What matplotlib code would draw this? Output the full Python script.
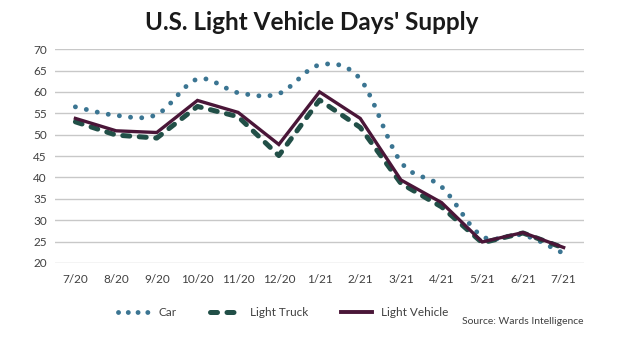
import matplotlib
matplotlib.use("Agg")
import matplotlib.pyplot as plt
from matplotlib.path import Path
from matplotlib.patches import PathPatch
from matplotlib.lines import Line2D

# Månader och värden
months = ["7/20", "8/20", "9/20", "10/20", "11/20", "12/20", "1/21",
          "2/21", "3/21", "4/21", "5/21", "6/21", "7/21"]
car = [56.5, 54.5, 54.7, 63.0, 59.8, 59.6, 66.3, 63.0, 43.6, 37.8, 26.2, 26.5, 22.2]
light_truck = [53.0, 49.9, 49.2, 56.6, 54.2, 45.1, 58.1, 51.7, 38.6, 33.1, 24.7, 27.0, 23.5]
light_vehicle = [53.8, 50.9, 50.5, 58.0, 55.2, 47.7, 60.0, 53.8, 39.4, 34.1, 24.9, 27.1, 23.6]
yticks = [20, 25, 30, 35, 40, 45, 50, 55, 60, 65, 70]

CAR_COL = "#3b7592"
TRUCK_COL = "#214f47"
VEH_COL = "#4a1638"

plt.rcParams["font.family"] = ["Lato", "DejaVu Sans"]

fig = plt.figure(figsize=(6.4, 3.51), dpi=100)
ax = fig.add_axes([0.086, 0.251, 0.8265, 0.609])

x = list(range(len(months)))

# Car: utjämnad kurva (Excel-stil) via Bezier-segment
verts = [(x[0], car[0])]
codes = [Path.MOVETO]
n = len(car)
for i in range(n - 1):
    p0 = (x[max(i - 1, 0)], car[max(i - 1, 0)])
    p1 = (x[i], car[i])
    p2 = (x[i + 1], car[i + 1])
    p3 = (x[min(i + 2, n - 1)], car[min(i + 2, n - 1)])
    c1 = (p1[0] + (p2[0] - p0[0]) / 6, p1[1] + (p2[1] - p0[1]) / 6)
    c2 = (p2[0] - (p3[0] - p1[0]) / 6, p2[1] - (p3[1] - p1[1]) / 6)
    verts += [c1, c2, p2]
    codes += [Path.CURVE4] * 3

CAR_LW = 3.5
dot_style = (0, (0.01, 2.3))
car_patch = PathPatch(Path(verts, codes), fill=False, edgecolor=CAR_COL,
                      linewidth=CAR_LW, linestyle=dot_style, capstyle="round", zorder=3)
ax.add_patch(car_patch)

truck_style = (0, (1.4, 1.9))
ax.plot(x, light_truck, color=TRUCK_COL, linewidth=3.6,
        linestyle=truck_style, dash_capstyle="round", zorder=4)
ax.plot(x, light_vehicle, color=VEH_COL, linewidth=2.4, zorder=5,
        solid_joinstyle="miter")

ax.set_xlim(-0.5, len(months) - 0.5)
ax.set_ylim(20, 70)
ax.set_yticks(yticks)
ax.set_xticks(x)
ax.set_xticklabels(months)
ax.grid(True, axis="y", color="#c8c8c8", linewidth=1.0)
ax.set_axisbelow(True)
for s in ax.spines.values():
    s.set_visible(False)
ax.tick_params(length=0, labelsize=8.5, colors="#404040", pad=8)
ax.tick_params(axis="y", pad=6)

fig.text(0.487, 0.935, "U.S. Light Vehicle Days' Supply", ha="center", va="center",
         fontsize=17.5, fontweight="bold", color="#1a1a1a")

handles = [
    Line2D([], [], color=CAR_COL, linewidth=CAR_LW, linestyle=(0, (0.01, 2.0)),
           dash_capstyle="round"),
    Line2D([], [], color=TRUCK_COL, linewidth=3.6, linestyle=truck_style, dash_capstyle="round"),
    Line2D([], [], color=VEH_COL, linewidth=2.8),
]
fig.legend(handles, ["Car", "Light Truck", "Light Vehicle"], loc="center",
           bbox_to_anchor=(0.443, 0.11), ncol=3, frameon=False, fontsize=8.5,
           handlelength=2.6, handletextpad=0.8, columnspacing=2.8, labelcolor="#404040")

fig.text(0.9125, 0.083, "Source: Wards Intelligence", ha="right", va="center",
         fontsize=7.5, color="#404040")

plt.savefig("out.png", dpi=100)
